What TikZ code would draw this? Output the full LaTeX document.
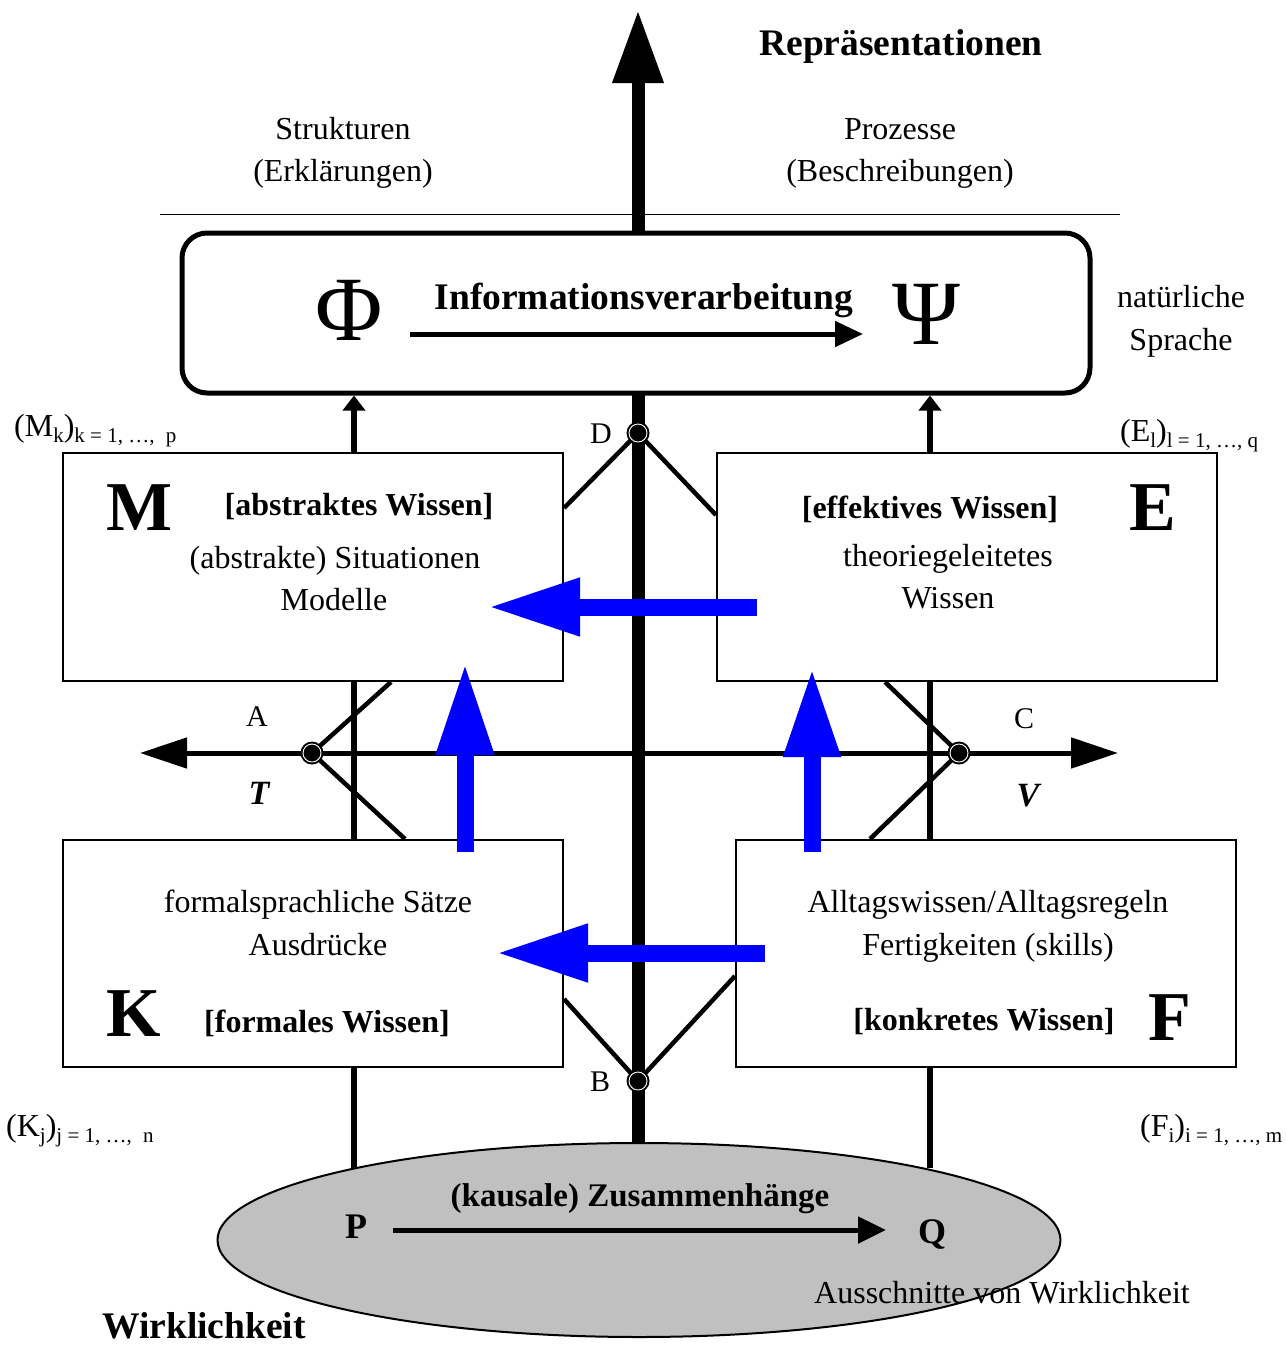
\documentclass[tikz,border=0pt]{standalone}
\usepackage{fontspec}
\setmainfont{Liberation Serif}
\usetikzlibrary{arrows.meta,calc,shapes.geometric}
\definecolor{groundgray}{RGB}{192,192,192}
\definecolor{flowblue}{RGB}{0,0,255}
\newcommand\fsz[1]{\fontsize{#1}{#1}\selectfont}
\newcommand\lowsub[1]{\raisebox{-6pt}{\fsz{21}#1}}
\begin{document}
\begin{tikzpicture}[x=1pt,y=-1pt,
  txt/.style={inner sep=0pt, anchor=base, font=\fsz{32}},
  btxt/.style={txt, font=\fsz{32}\bfseries},
  bigtxt/.style={txt, font=\fsz{37.5}\bfseries},
  letter/.style={txt, font=\fsz{70}\bfseries},
  greek/.style={txt, font=\fsz{92}},
  pointlbl/.style={txt, font=\fsz{30}},
  axislbl/.style={txt, font=\fsz{34}\bfseries\itshape},
  sublbl/.style={inner sep=0pt, anchor=base west, font=\fsz{32}},
  kbox/.style={draw, line width=2pt, minimum width=500pt, minimum height=228pt, inner sep=0pt},
  column/.style={line width=6pt},
  diag/.style={line width=4.5pt},
  flow/.style={draw=flowblue, line width=17pt, -{Triangle[length=92pt,width=54pt]}, flowblue},
]
\useasboundingbox (0,0) rectangle (1286,1345);

% column positions
\coordinate (colL) at (354,0);
\coordinate (colR) at (930,0);
\coordinate (axis) at (638,0);

% ground: reality
\node[ellipse, draw, line width=2pt, fill=groundgray, minimum width=843pt, minimum height=194pt] (W) at (639,1240) {};
\node[txt, font=\fsz{33}\bfseries] (ZH) at (640,1206) {(kausale) Zusammenhänge};
\node[txt, font=\fsz{36}\bfseries] (P) at (356,1238) {P};
\node[txt, font=\fsz{36}\bfseries] (Q) at (932,1243) {Q};
\coordinate (pq0) at (393,1230);
\coordinate (pq1) at (886,1230);
\draw[line width=5pt, -{Triangle[length=28pt,width=26pt]}] (pq0) -- (pq1);
\node[txt] (Aus) at (1002,1303) {Ausschnitte von Wirklichkeit};
\node[bigtxt] (Wk) at (204,1338) {Wirklichkeit};

% top headings
\node[bigtxt] (Rep) at (901,55) {Repräsentationen};
\node[txt] (Str) at (343,139) {Strukturen};
\node[txt] (Erk) at (343,181) {(Erklärungen)};
\node[txt] (Pro) at (900,139) {Prozesse};
\node[txt] (Bes) at (900,181) {(Beschreibungen)};
\coordinate (rule0) at (160,214);
\coordinate (rule1) at (1120,214);
\draw[line width=1pt] (rule0) -- (rule1);

% main vertical axis
\coordinate (tip) at (638,10);
\draw[line width=13pt, -{Triangle[length=73pt,width=48pt]}] (W.north -| axis) -- (tip);

% information processing box
\node[draw, line width=5pt, rounded corners=25pt, fill=white, minimum width=908pt, minimum height=160pt] (R) at (636,313) {};
\node[greek] (Phi) at (349,340) {Φ};
\node[greek] (Psi) at (926,344) {Ψ};
\node[bigtxt] (IV) at (644,309) {Informationsverarbeitung};
\coordinate (iv0) at (410,334);
\coordinate (iv1) at (863,334);
\draw[line width=5pt, -{Triangle[length=28pt,width=25pt]}] (iv0) -- (iv1);
\node[txt] (nat) at (1181,307) {natürliche};
\node[txt] (spr) at (1181,350) {Sprache};

% knowledge boxes
\node[kbox] (M) at (313,567) {};
\node[kbox] (E) at (967,567) {};
\node[kbox, minimum height=227pt] (K) at (313,953.5) {};
\node[kbox, minimum height=227pt] (F) at (986,953.5) {};

\node[letter] at (140,530) {M};
\node[btxt] at (359,515) {[abstraktes Wissen]};
\node[txt] at (335,568) {(abstrakte) Situationen};
\node[txt] at (334,610) {Modelle};

\node[btxt] at (930,518) {[effektives Wissen]};
\node[letter] at (1153,530) {E};
\node[txt] at (948,566) {theoriegeleitetes};
\node[txt] at (948,608) {Wissen};

\node[txt] at (318,912) {formalsprachliche Sätze};
\node[txt] at (318,955) {Ausdrücke};
\node[letter] at (134,1036) {K};
\node[btxt] at (327,1032) {[formales Wissen]};

\node[txt] at (988,912) {Alltagswissen/Alltagsregeln};
\node[txt] at (988,955) {Fertigkeiten (skills)};
\node[btxt] at (984,1030) {[konkretes Wissen]};
\node[letter] at (1170,1040) {F};

% index families
\node[sublbl] at (14,436) {(M\lowsub{k})\lowsub{k = 1, …,\hspace{6pt} p}};
\node[sublbl] at (1120,441) {(E\lowsub{l})\lowsub{l = 1, …, q}};
\node[sublbl] at (6,1136) {(K\lowsub{j})\lowsub{j = 1, …,\hspace{6pt} n}};
\node[sublbl] at (1140,1136) {(F\lowsub{i})\lowsub{i = 1, …, m}};

% vertical columns
\draw[column, -{Triangle[length=15pt,width=22pt]}] (M.north -| colL) -- (R.south -| colL);
\draw[column, -{Triangle[length=15pt,width=22pt]}] (E.north -| colR) -- (R.south -| colR);
\draw[column] (M.south -| colL) -- (K.north -| colL);
\draw[column] (E.south -| colR) -- (F.north -| colR);
\draw[column] (K.south -| colL) -- (colL |- W.166);
\draw[column] (F.south -| colR) -- (colR |- W.14);

% horizontal axis T -- V
\coordinate (tL) at (140,753);
\coordinate (tR) at (1118,753);
\draw[line width=5pt, {Triangle[length=47pt,width=30pt]}-{Triangle[length=47pt,width=30pt]}] (tL) -- (tR);

% junction points
\coordinate (A) at (312,753);
\coordinate (C) at (959,753);
\coordinate (D) at (638,433);
\coordinate (B) at (638,1081);

\draw[diag] ($(M.north east)+(0,56)$) -- (D) -- ($(E.north west)+(0,63)$);
\draw[diag] ($(K.north east)+(0,160)$) -- (B) -- ($(F.north west)+(0,137)$);
\draw[diag] ($(M.south west)+(329,0)$) -- (A) -- ($(K.north west)+(343,0)$);
\draw[diag] ($(E.south west)+(169,0)$) -- (C) -- ($(F.north west)+(135,0)$);

\foreach \p in {A,B,C,D} {
  \fill[black] (\p) circle (11.5pt);
  \draw[white, line width=0.9pt] (\p) circle (9pt);
}

\node[pointlbl] at (257,726) {A};
\node[pointlbl] at (1024,728) {C};
\node[pointlbl] at (601,443) {D};
\node[pointlbl] at (600,1091) {B};
\node[axislbl] at (259,804) {T};
\node[axislbl] at (1028,806) {V};

% knowledge flows
\coordinate (f1s) at (757,607);
\coordinate (f1e) at (488,607);
\coordinate (f2s) at (765,953);
\coordinate (f2e) at (496,953);
\coordinate (f3s) at (465,852);
\coordinate (f3e) at (465,663);
\coordinate (f4s) at (812,852);
\coordinate (f4e) at (812,668);
\draw[flow] (f1s) -- (f1e);
\draw[flow] (f2s) -- (f2e);
\draw[flow] (f3s) -- (f3e);
\draw[flow, -{Triangle[length=89pt,width=53pt]}] (f4s) -- (f4e);
\end{tikzpicture}
\end{document}
